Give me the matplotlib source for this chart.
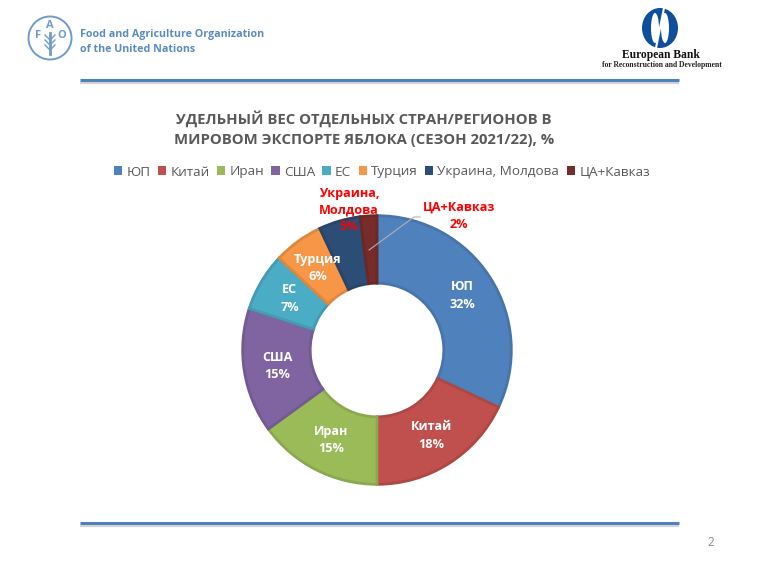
import matplotlib
matplotlib.use('Agg')
import matplotlib.pyplot as plt
import matplotlib.colors as mcolors
from matplotlib.patches import Circle, Ellipse, Patch
import numpy as np

plt.rcParams['font.family'] = ['Open Sans', 'DejaVu Sans']

# Данные
regions = ['ЮП', 'Китай', 'Иран', 'США', 'ЕС', 'Турция', 'Украина, Молдова', 'ЦА+Кавказ']
shares = [32, 18, 15, 15, 7, 6, 5, 2]
colors = ['#4f81bd', '#c0504d', '#9bbb59', '#8064a2', '#4bacc6', '#f79646', '#2c4d75', '#772c2a']
slice_labels = ['ЮП', 'Китай', 'Иран', 'США', 'ЕС', 'Турция', 'Украина,\nМолдова', 'ЦА+Кавказ']
title = 'УДЕЛЬНЫЙ ВЕС ОТДЕЛЬНЫХ СТРАН/РЕГИОНОВ В\nМИРОВОМ ЭКСПОРТЕ ЯБЛОКА (СЕЗОН 2021/22), %'

W, H = 760, 570
fig = plt.figure(figsize=(W / 100, H / 100), dpi=100, facecolor='white')

# Слой в пикселях для шапки и линий
bg = fig.add_axes([0, 0, 1, 1])
bg.set_xlim(0, W)
bg.set_ylim(H, 0)
bg.axis('off')

# Линии сверху и снизу
for y in (80, 523):
    bg.plot([80, 679], [y + 2.5, y + 2.5], color='#d4d4d4', lw=1.6, solid_capstyle='butt')
    bg.plot([80, 679], [y, y], color='#4f81bd', lw=2.2, solid_capstyle='butt')

# Логотип ФАО (упрощенно)
fao = '#6f9ccb'
bg.add_patch(Circle((50, 38), 21.5, fill=False, ec=fao, lw=1.4))
for s, x, y in zip('FAO', (38, 50, 62), (36, 26, 36)):
    bg.text(x, y, s, color=fao, fontsize=8, fontweight='bold', ha='center', va='center')
bg.plot([50, 50], [33, 54], color=fao, lw=2)
for dy in (38, 43, 48):
    bg.plot([45, 50, 55], [dy - 3, dy + 2, dy - 3], color=fao, lw=1)
bg.text(80, 35, 'Food and Agriculture Organization', color='#5a8bbf', fontsize=7.65,
        fontweight='bold', va='center')
bg.text(80, 49, 'of the United Nations', color='#5a8bbf', fontsize=7.65,
        fontweight='bold', va='center')

# Логотип ЕБРР (упрощенно)
bg.add_patch(Ellipse((660, 28), 36, 40, fc='#0d4f9c', ec='none'))
bg.add_patch(Ellipse((655, 28), 8, 30, fc='white', ec='none'))
bg.add_patch(Ellipse((665, 28), 8, 30, fc='white', ec='none'))
bg.plot([664, 656], [8, 48], color='white', lw=1.5)
bg.text(661, 55, 'European Bank', family='Liberation Serif', fontweight='bold', fontsize=8.3,
        ha='center', va='center', color='#111111')
bg.text(662, 65, 'for Reconstruction and Development', family='Liberation Serif', fontweight='bold',
        fontsize=5.5, ha='center', va='center', color='#222222')

bg.text(711, 543, '2', color='#8a8a8a', fontsize=8.5, ha='center', va='center')

# Заголовок
bg.text(364, 128.5, title, color='#595959', fontsize=10.7, fontweight='bold', ha='center', va='center',
        linespacing=1.6)

# Кольцевая диаграмма
cx, cy, R = 377, 350, 135
ax = fig.add_axes([(cx - R) / W, 1 - (cy + R) / H, 2 * R / W, 2 * R / H])
wedges, _ = ax.pie(shares, colors=colors, startangle=90, counterclock=False, radius=0.995,
                   wedgeprops=dict(width=0.5, linewidth=2))
for w, c in zip(wedges, colors):
    r, g, b = mcolors.to_rgb(c)
    w.set_edgecolor((r * 0.9, g * 0.9, b * 0.9))
    w.set_joinstyle('miter')
ax.set_xlim(-1, 1)
ax.set_ylim(-1, 1)

# Подписи внутри сегментов
for w, lab, val in zip(wedges[:6], slice_labels, shares):
    a = np.deg2rad((w.theta1 + w.theta2) / 2)
    ax.text(0.75 * np.cos(a), 0.75 * np.sin(a), f'{lab}\n{val}%', color='white', fontsize=9.1,
            fontweight='bold', ha='center', va='center', linespacing=1.45)

# Красные подписи снаружи
bg.set_zorder(ax.get_zorder() + 1)
bg.patch.set_alpha(0)
bg.text(349, 210, f'{slice_labels[6]}\n{shares[6]}%', color='#ff0000', fontsize=9.1, fontweight='bold',
        ha='center', va='center', linespacing=1.3)
bg.text(459, 216, f'{slice_labels[7]}\n{shares[7]}%', color='#ff0000', fontsize=9.1, fontweight='bold',
        ha='center', va='center', linespacing=1.45)
bg.plot([369, 414, 420], [250, 217, 217], color='#b0b0b0', lw=0.8)

# Легенда
handles = [Patch(fc=c, ec='none') for c in colors]
leg = fig.legend(handles, regions, ncol=8, frameon=False, loc='center', bbox_to_anchor=(382 / W, 1 - 172 / H),
                 fontsize=9.7, handlelength=0.62, handleheight=0.62, handletextpad=0.3, columnspacing=0.55,
                 labelcolor='#595959', borderpad=0)

fig.savefig('out.png', dpi=100, facecolor='white')
